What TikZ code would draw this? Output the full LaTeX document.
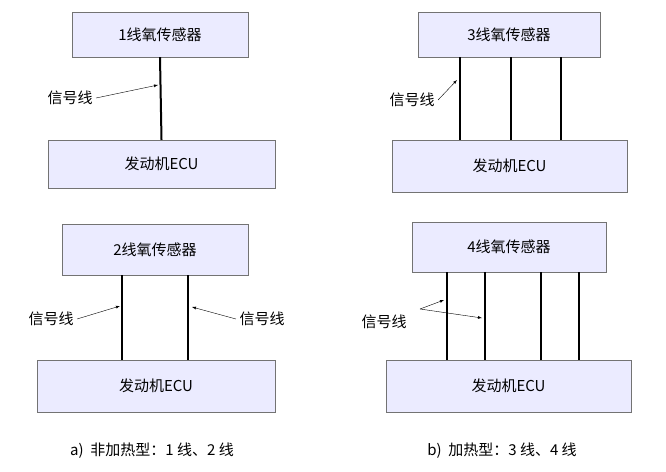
\documentclass[tikz,border=0pt]{standalone}
\usepackage{fontspec}
\setmainfont{Liberation Serif}
\newfontfamily\cjk{Noto Sans CJK SC}
\usetikzlibrary{positioning}
\tikzset{box/.style={draw=black!55, fill=blue!8, inner sep=0pt},
  wire/.style={line width=2pt},
  arrow/.style={->, >=latex, thin},
  lbl/.style={font=\cjk\fontsize{15}{17}\selectfont}}
\begin{document}
\begin{tikzpicture}[x=1pt,y=-1pt]
\useasboundingbox (0,0) rectangle (666,471);
% a) upper
\node (s1) [box, minimum width=176, minimum height=45, lbl] at (160,34.5) {1线氧传感器};
\node (e1) [box, minimum width=227, minimum height=48, lbl] at (161.5,164) {发动机ECU};
\draw [wire] (s1.south) -- (e1.north);
\node (l1) [lbl] at (70,98) {信号线};
\draw [arrow] (l1.east) -- (158,85);
% a) lower
\node (s2) [box, minimum width=186, minimum height=51, lbl] at (155,249.5) {2线氧传感器};
\node (e2) [box, minimum width=238, minimum height=52, lbl] at (156,386) {发动机ECU};
\draw [wire] (122,275) -- (122,360);
\draw [wire] (188,275) -- (188,360);
\node (l2) [lbl] at (51,319) {信号线};
\draw [arrow] (l2.east) -- (120,306);
\node (l3) [lbl] at (262,319) {信号线};
\draw [arrow] (l3.west) -- (192,307);
% b) upper
\node (s3) [box, minimum width=182, minimum height=45, lbl] at (509,34.5) {3线氧传感器};
\node (e3) [box, minimum width=235, minimum height=52, lbl] at (509.5,166) {发动机ECU};
\foreach \x in {460,511,561}
  \draw [wire] (\x,57) -- (\x,140);
\node (l4) [lbl] at (412,100) {信号线};
\draw [arrow] (l4.east) -- (457,80);
% b) lower
\node (s4) [box, minimum width=194, minimum height=50, lbl] at (509,247) {4线氧传感器};
\node (e4) [box, minimum width=245, minimum height=52, lbl] at (508.5,386) {发动机ECU};
\foreach \x in {447,485,541,579}
  \draw [wire] (\x,272) -- (\x,360);
\node (l5) [lbl] at (384,322) {信号线};
\coordinate (fork) at (420,309);
\draw [arrow] (fork) -- (444,300);
\draw [arrow] (fork) -- (482,318);
% captions
\node (ca) [lbl] at (152,451) {a)\ \ 非加热型：1 线、2 线};
\node (cb) [lbl] at (502,451) {b)\ \ 加热型：3 线、4 线};
\end{tikzpicture}
\end{document}
